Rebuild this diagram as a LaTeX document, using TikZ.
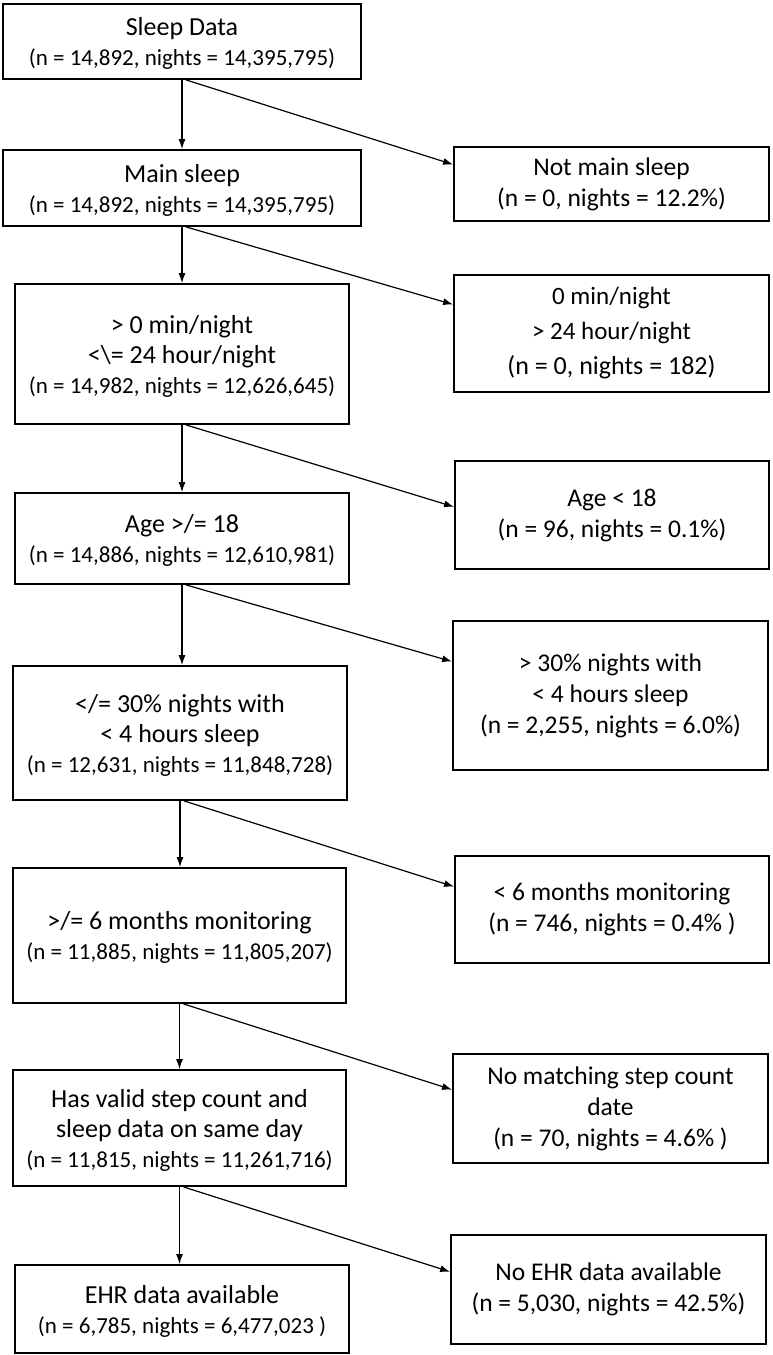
\documentclass[tikz,border=0pt]{standalone}
\usepackage{fontspec}
\setmainfont{Carlito}
\usetikzlibrary{arrows.meta,calc}
\begin{document}
\begin{tikzpicture}[x=1pt,y=-1pt,
  box/.style={draw=black, line width=1.8pt, rectangle, inner sep=0pt, align=center, font=\fontsize{26}{30}\selectfont},
  lbox/.style={box, text depth=-2pt},
  rbox/.style={box, font=\fontsize{25.5}{31}\selectfont},
  arr/.style={line width=1.2pt, -{Latex[length=10pt,width=7pt]}}
  ]
\useasboundingbox (0,0) rectangle (773,1355);
\newcommand{\numl}{\fontsize{23}{30}\selectfont}
% left column
\node[lbox, minimum width=358pt, minimum height=75pt] (b1) at (182,41.5) {Sleep Data\\\numl (n = 14,892, nights = 14,395,795)};
\node[lbox, minimum width=358pt, minimum height=76pt] (b2) at (182,188) {Main sleep\\\numl (n = 14,892, nights = 14,395,795)};
\node[lbox, minimum width=334pt, minimum height=140pt] (b3) at (182,354) {> 0 min/night\\<\textbackslash= 24 hour/night\\\numl (n = 14,982, nights = 12,626,645)};
\node[lbox, minimum width=334pt, minimum height=91pt] (b4) at (182,538.5) {Age >/= 18\\\numl (n = 14,886, nights = 12,610,981)};
\node[lbox, minimum width=334pt, minimum height=134pt] (b5) at (180,733) {</= 30\% nights with\\< 4 hours sleep\\\numl (n = 12,631, nights = 11,848,728)};
\node[lbox, minimum width=333pt, minimum height=135pt] (b6) at (179.5,935.5) {>/= 6 months monitoring\\\numl (n = 11,885, nights = 11,805,207)};
\node[lbox, minimum width=333pt, minimum height=116pt] (b7) at (179.5,1128) {Has valid step count and\\sleep data on same day\\\numl (n = 11,815, nights = 11,261,716)};
\node[lbox, minimum width=334pt, minimum height=88pt] (b8) at (182,1309) {EHR data available\\\numl (n = 6,785, nights = 6,477,023 )};
% right column
\node[rbox, minimum width=315pt, minimum height=74pt] (r1) at (611.5,184) {Not main sleep\\(n = 0, nights = 12.2\%)};
\node[rbox, minimum width=315pt, minimum height=117pt, font=\fontsize{25}{35}\selectfont] (r2) at (611.5,333.5) {0 min/night\\> 24 hour/night\\\fontsize{26}{35}\selectfont (n = 0, nights = 182)};
\node[rbox, minimum width=314pt, minimum height=108pt] (r3) at (612,515) {Age < 18\\(n = 96, nights = 0.1\%)};
\node[rbox, minimum width=315pt, minimum height=149pt] (r4) at (610.5,695.5) {> 30\% nights with\\< 4 hours sleep\\(n = 2,255, nights = 6.0\%)};
\node[rbox, minimum width=314pt, minimum height=107pt] (r5) at (612,909.5) {< 6 months monitoring\\(n = 746, nights = 0.4\% )};
\node[rbox, minimum width=315pt, minimum height=109pt] (r6) at (610.5,1108.5) {No matching step count\\date\\(n = 70, nights = 4.6\% )};
\node[rbox, minimum width=315pt, minimum height=109pt] (r7) at (608.5,1289.5) {No EHR data available\\(n = 5,030, nights = 42.5\%)};
% vertical connectors
\foreach \a/\b in {b1/b2,b2/b3,b3/b4,b4/b5,b5/b6,b6/b7,b7/b8}
  \draw[arr] (\a.south) -- (\a.south |- \b.north);
% diagonal connectors
\foreach \a/\b/\f in {b1/r1/0.243,b2/r2/0.256,b3/r3/0.426,b4/r4/0.275,b5/r5/0.29,b6/r6/0.33,b7/r7/0.34}
  \draw[arr] ($(\a.south)+(4,0)$) -- ($(\b.north west)!\f!(\b.south west)$);
\end{tikzpicture}
\end{document}
